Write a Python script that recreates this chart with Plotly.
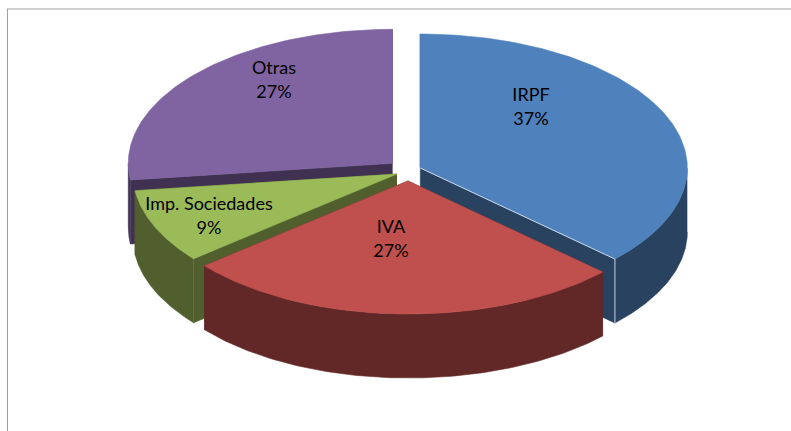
import numpy as np
import plotly.graph_objects as go

categories = ["IRPF", "IVA", "Imp. Sociedades", "Otras"]
values = [37, 27, 9, 27]
top_colors = ["#4F81BD", "#C0504D", "#9BBB59", "#8064A2"]
side_colors = ["#284260", "#622827", "#505F2D", "#403152"]
apex_x = [420.3, 408, 397, 392.3]
apex_y = [168, 181, 174, 163.3]
label_x = [531, 391, 209, 274]
label_y = [108.5, 240.5, 217.5, 81.5]

RX_RIGHT, RX_LEFT, RY_BACK, RY_FRONT, DEPTH = 267.0, 264.0, 134.0, 133.0, 64.0
W, H = 791, 431

total = sum(values)
edges = np.concatenate([[0], np.cumsum(values)]) / total * 2 * np.pi


def arc(cx, cy, a0, a1, n=120):
    t = np.linspace(a0, a1, n)
    s, c = np.sin(t), np.cos(t)
    return (cx + np.where(s >= 0, RX_RIGHT, RX_LEFT) * s,
            cy - np.where(c >= 0, RY_BACK, RY_FRONT) * c)


fig = go.Figure()


def poly(x, y, color):
    fig.add_trace(go.Scatter(
        x=list(x), y=list(y), mode="lines", fill="toself", fillcolor=color,
        line=dict(color=color, width=0.6), hoverinfo="skip", showlegend=False))


def slice_faces(i):
    a0, a1 = edges[i], edges[i + 1]
    cx, cy = apex_x[i], apex_y[i]
    # inner cut faces
    for a in (a0, a1):
        ex, ey = arc(cx, cy, a, a, 1)
        poly([cx, ex[0], ex[0], cx], [cy, ey[0], ey[0] + DEPTH, cy + DEPTH], side_colors[i])
    # outer wall: only the front-facing part of the rim
    f0, f1 = max(a0, np.pi / 2), min(a1, 3 * np.pi / 2)
    if f1 > f0:
        wx, wy = arc(cx, cy, f0, f1)
        poly(np.concatenate([wx, wx[::-1]]), np.concatenate([wy, wy[::-1] + DEPTH]), side_colors[i])
    # top face
    ax, ay = arc(cx, cy, a0, a1)
    poly(np.concatenate([[cx], ax, [cx]]), np.concatenate([[cy], ay, [cy]]), top_colors[i])


for i in [3, 2, 0]:
    slice_faces(i)

# thin light edge along the blue slice's cut
bx, by = arc(apex_x[0], apex_y[0], edges[1], edges[1], 1)
fig.add_trace(go.Scatter(
    x=[apex_x[0], bx[0], bx[0]], y=[apex_y[0], by[0], by[0] + DEPTH], mode="lines",
    line=dict(color="#C9D6E6", width=1), hoverinfo="skip", showlegend=False))

slice_faces(1)

fig.add_trace(go.Scatter(
    x=label_x, y=label_y, mode="text",
    text=[f"{c}<br>{v}%" for c, v in zip(categories, values)],
    textposition="middle center",
    textfont=dict(family="Lato, Carlito, sans-serif", size=18, color="#000000"),
    hoverinfo="skip", showlegend=False))

fig.add_shape(type="line", x0=7.5, x1=7.5, y0=9, y1=H, line=dict(color="#A0A0A0", width=1))
fig.add_shape(type="line", x0=7, x1=W, y0=9, y1=9, line=dict(color="#A0A0A0", width=1))

fig.update_layout(
    width=W, height=H, margin=dict(l=0, r=0, t=0, b=0),
    paper_bgcolor="white", plot_bgcolor="white", showlegend=False,
    xaxis=dict(range=[0, W], visible=False, fixedrange=True),
    yaxis=dict(range=[H, 0], visible=False, fixedrange=True),
)
fig.write_html("out.html", config={"displayModeBar": False},
               post_script="document.body.style.margin='0';document.body.style.overflow='hidden';")
